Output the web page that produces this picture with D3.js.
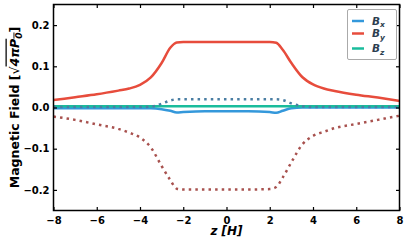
<!DOCTYPE html>
<html>
<head>
<meta charset="utf-8">
<script src="https://cdn.jsdelivr.net/npm/d3@7"></script>
<style>
  body { margin: 0; background: #fff; }
  svg { font-family: "DejaVu Sans", sans-serif; font-weight: bold; }
</style>
</head>
<body>
<script>
// z positions [H]
const zVals = [-8, -7, -6, -5, -4.5, -4, -3.5, -3, -2.6, -2.3, -2, -1, 0, 1, 2, 2.3, 2.6, 3, 3.5, 4, 4.5, 5, 6, 7, 8];
// solid lines
const bx = [-0.002, -0.002, -0.002, -0.002, -0.002, -0.002, -0.002, -0.004, -0.008, -0.012, -0.011, -0.009, -0.009, -0.009, -0.011, -0.013, -0.008, -0.002, 0.000, 0.000, 0.000, 0.000, 0.000, 0.000, 0.000];
const by = [0.018, 0.025, 0.032, 0.041, 0.046, 0.055, 0.073, 0.108, 0.145, 0.158, 0.159, 0.159, 0.159, 0.159, 0.159, 0.157, 0.140, 0.108, 0.074, 0.056, 0.046, 0.040, 0.031, 0.024, 0.016];
const bz = [0.003, 0.003, 0.003, 0.003, 0.003, 0.003, 0.003, 0.003, 0.003, 0.003, 0.003, 0.003, 0.003, 0.003, 0.003, 0.003, 0.003, 0.003, 0.003, 0.003, 0.003, 0.003, 0.003, 0.003, 0.003];
// dotted lines
const bxDot = [0.001, 0.001, 0.001, 0.001, 0.001, 0.001, 0.002, 0.009, 0.017, 0.020, 0.020, 0.020, 0.020, 0.020, 0.020, 0.020, 0.018, 0.010, 0.003, 0.001, 0.001, 0.001, 0.001, 0.001, 0.001];
const byDot = [-0.022, -0.030, -0.041, -0.052, -0.061, -0.073, -0.097, -0.142, -0.176, -0.197, -0.199, -0.199, -0.199, -0.199, -0.198, -0.193, -0.170, -0.133, -0.090, -0.069, -0.059, -0.050, -0.040, -0.030, -0.020];

const xTicks = [-8, -6, -4, -2, 0, 2, 4, 6, 8];
const yTicks = [-0.2, -0.1, 0.0, 0.1, 0.2];

const W = 407, H = 242;
const margin = {top: 4.5, right: 7.5, bottom: 31.5, left: 53.5};

const svg = d3.select("body").append("svg")
    .attr("width", W)
    .attr("height", H);

const x = d3.scaleLinear().domain([-8, 8]).range([margin.left, W - margin.right]);
const y = d3.scaleLinear().domain([-0.25, 0.25]).range([H - margin.bottom, margin.top]);

const line = (vals) => d3.line()
    .x((d, i) => x(zVals[i]))
    .y((d) => y(d))
    .curve(d3.curveMonotoneX)(vals);

const plot = svg.append("g");

const solids = [
    {name: "x", vals: bx, color: "#3498db"},
    {name: "y", vals: by, color: "#e74c3c"},
    {name: "z", vals: bz, color: "#1abc9c"}
];
const dotted = [
    {vals: bxDot, color: "#4a7ea3"},
    {vals: byDot, color: "#a8514e"}
];

solids.forEach(s => {
    plot.append("path")
        .attr("d", line(s.vals))
        .attr("fill", "none")
        .attr("stroke", s.color)
        .attr("stroke-width", 2.5);
});
dotted.forEach(s => {
    plot.append("path")
        .attr("d", line(s.vals))
        .attr("fill", "none")
        .attr("stroke", s.color)
        .attr("stroke-width", 2.5)
        .attr("stroke-dasharray", "2.5,4.1");
});

// axes, ticks inward on all sides
const tickLen = 3.5;
const fmtY = d3.format(".1f");
const fmtX = (d) => d < 0 ? "\u2212" + Math.abs(d) : "" + d;

const xb = svg.append("g").attr("transform", `translate(0,${H - margin.bottom})`)
    .call(d3.axisBottom(x).tickValues(xTicks).tickSizeInner(-tickLen).tickSizeOuter(0).tickPadding(6).tickFormat(fmtX));
const xt = svg.append("g").attr("transform", `translate(0,${margin.top})`)
    .call(d3.axisTop(x).tickValues(xTicks).tickSizeInner(-tickLen).tickSizeOuter(0).tickFormat(""));
const yl = svg.append("g").attr("transform", `translate(${margin.left},0)`)
    .call(d3.axisLeft(y).tickValues(yTicks).tickSizeInner(-tickLen).tickSizeOuter(0).tickPadding(4)
        .tickFormat(d => d < 0 ? "\u2212" + fmtY(-d) : fmtY(d)));
const yr = svg.append("g").attr("transform", `translate(${W - margin.right},0)`)
    .call(d3.axisRight(y).tickValues(yTicks).tickSizeInner(-tickLen).tickSizeOuter(0).tickFormat(""));

[xb, xt, yl, yr].forEach(g => {
    g.select(".domain").remove();
    g.selectAll(".tick line").attr("stroke", "#000").attr("stroke-width", 1.2);
    g.selectAll("text").attr("font-family", "DejaVu Sans").attr("font-weight", "bold")
        .attr("font-size", 10).attr("fill", "#000");
});

svg.append("rect")
    .attr("x", margin.left).attr("y", margin.top)
    .attr("width", W - margin.left - margin.right)
    .attr("height", H - margin.top - margin.bottom)
    .attr("fill", "none").attr("stroke", "#000").attr("stroke-width", 1.5);

// x label
const xl = svg.append("text")
    .attr("x", (margin.left + W - margin.right) / 2)
    .attr("y", 235)
    .attr("text-anchor", "middle")
    .attr("font-size", 12)
    .attr("font-style", "italic");
xl.append("tspan").text("z [");
xl.append("tspan").text("H");
xl.append("tspan").text("]");

// y label
const ylab = svg.append("text")
    .attr("transform", `translate(18.5,${(margin.top + H - margin.bottom) / 2}) rotate(-90)`)
    .attr("text-anchor", "middle")
    .attr("font-size", 12.5);
ylab.append("tspan").text("Magnetic Field [");
ylab.append("tspan").text("\u221A").attr("font-weight", "normal");
ylab.append("tspan").text("4\u03C0P").attr("font-style", "italic").attr("text-decoration", "overline");
ylab.append("tspan").text("0").attr("font-size", 9).attr("dy", 3).attr("font-style", "italic").attr("text-decoration", "overline");
ylab.append("tspan").text("]").attr("dy", -3);

// legend
const lg = svg.append("g");
lg.append("rect")
    .attr("x", 347.5).attr("y", 9.5).attr("width", 49).attr("height", 50)
    .attr("fill", "#fff").attr("fill-opacity", 0.8)
    .attr("stroke", "#aaa").attr("stroke-width", 1).attr("rx", 1.5);
const legY = [21, 33.5, 48.5];
solids.forEach((s, i) => {
    lg.append("line")
        .attr("x1", 352).attr("x2", 364)
        .attr("y1", legY[i]).attr("y2", legY[i])
        .attr("stroke", s.color).attr("stroke-width", 2.5);
    const t = lg.append("text")
        .attr("x", 372).attr("y", legY[i] + 3.5)
        .attr("font-size", 10.5).attr("font-style", "italic").attr("fill", "#2c3e50");
    t.append("tspan").text("B");
    t.append("tspan").text(s.name).attr("font-size", 7.5).attr("dy", 2.5);
});
</script>
</body>
</html>
